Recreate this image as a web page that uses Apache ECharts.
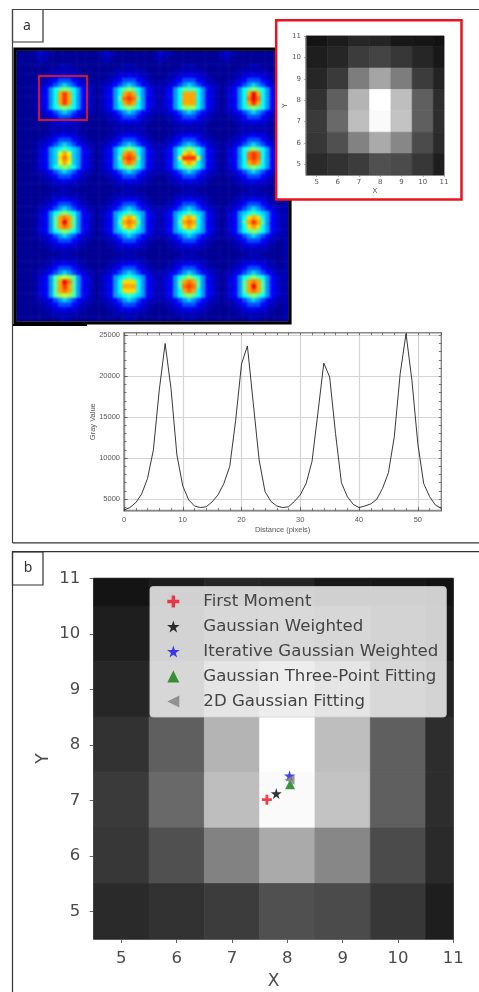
<!DOCTYPE html>
<html><head><meta charset="utf-8">
<style>html,body{margin:0;padding:0;background:#fff}#c{width:479px;height:992px}#c canvas{filter:blur(.6px)}
#soft{position:absolute;left:17px;top:51px;width:271px;height:270px;backdrop-filter:blur(.85px);-webkit-backdrop-filter:blur(.85px);clip-path:polygon(0 0,257px 0,257px 151px,271px 151px,271px 270px,0 270px)}
#box{position:absolute;left:38px;top:75px;width:46px;height:42px;border:2px solid #d01430;filter:blur(.4px)}</style>
<script src="https://cdn.jsdelivr.net/npm/echarts@6/dist/echarts.min.js"></script>
</head><body><div id="c"></div><div id="soft"></div><div id="box"></div>
<script>
// ---- data ----
const heatPalette=['#000096','#0000b4','#0000dc','#0000ff','#0048ff','#0096ff','#00d2ff','#00ffff','#50ffaa','#96ff5a','#d2ff28','#ffdc00','#ffa500','#ff6e00','#ff3200','#f00000'];
// outer rings of a spot (14 columns, peak at index 7) for |dy| = 3..7
const haloRows={3:'01123456543211',4:'00112344432110',5:'00011223221100',6:'00001111111000',7:'00000011100000'};
const spotRows=[
 [['01235789875321','012357cec75321','012357cec75321','012357cec75321','01235789875321'],
  ['01235789875321','012357cdc75321','012358ded85321','012357cdc75321','01235789875321'],
  ['01235788875321','012357ccc75321','012357ccc75321','012357ccc75321','01235799975321'],
  ['01235789875321','012357cfc75321','012357dfd75321','012357cec75321','01235789875321']],
 [['01235678765321','012356aca65321','012356bdb65321','012356aca65321','01235789875321'],
  ['01235789875321','012357cdc75321','012358ded85321','012357cdc75321','01235789875321'],
  ['01235789875321','012357bcb75321','01235aeeea5321','012357bcb75321','01235789875321'],
  ['01235789875321','012357ded75321','012357ded75321','012357cdc75321','01235789875321']],
 [['01235789875321','012358cdc85321','012358cfc85321','012358cdc85321','01235789875321'],
  ['01235678765321','012357bcb75321','012358cdc85321','012357bcb75321','01235678765321'],
  ['01235678765321','012357bcb75321','012358cdc75321','012357bcb75321','01235678765321'],
  ['01235678765321','012357bcb75321','012358cec85321','012357bcb75321','01235789875321']],
 [['0123589a985321','012358cfd85321','012358cec85321','012358cdc85321','0123589a985321'],
  ['01235678765321','012357bbb75321','012357ccc75321','012357bbb75321','01235678765321'],
  ['01235789875321','012358cdc85321','012358ded85321','012357cdc75321','01235789875321'],
  ['01235789875321','012358cdc85321','012358cfc85321','012358cdc85321','01235789875321']]
];
const edgeTopRows=['00001211000000000012110000000012110000000000121100000000000','00001110000000000011100000000011100000000000111000000000000','00000100000000000001000000000001000000000000010000000000000'];
const heatRowSpans=[[3,7,6],[0,6,6],[0,7,6],[0,7,7]]; // [blank rows, rows above the peak, rows below]
const heatColSpans=[[3,0,0],[0,0,0],[0,1,0],[0,0,1]]; // [blank cols, cols dropped, cols added]

const insetX=[5,6,7,8,9,10,11], insetY=[11,10,9,8,7,6,5];
const insetGray=[
 [20,28,38,36,24,22,18],
 [30,38,60,68,55,38,24],
 [38,58,125,165,125,60,35],
 [50,95,180,255,190,95,45],
 [58,105,190,250,195,95,45],
 [55,80,130,170,135,75,42],
 [42,50,60,80,75,55,30]];
const axisTicks=[5,6,7,8,9,10,11];

const profileValues=[3650,3950,4550,5600,7500,11000,18300,24000,18500,10400,6600,4900,4150,3950,4050,4650,5500,6900,9000,14600,21500,23700,16700,9750,5900,4700,4150,3950,4050,4700,5500,6900,9600,15500,21600,19900,13000,7000,5300,4350,3950,4150,4400,4950,6300,8200,12600,20300,25200,19500,11800,6900,5300,4250,3860];
const profileXTicks=[0,10,20,30,40,50];
const profileYTicks=[5000,10000,15000,20000,25000];
const profileXMinorTicks=[0,2,4,6,8,10,12,14,16,18,20,22,24,26,28,30,32,34,36,38,40,42,44,46,48,50,52,54];
const profileYMinorTicks=[4000,5000,6000,7000,8000,9000,10000,11000,12000,13000,14000,15000,16000,17000,18000,19000,20000,21000,22000,23000,24000,25000];

const firstMoment=[[7.63,7.01]], gaussWeighted=[[7.80,7.12]], iterGauss=[[8.04,7.44]], threePoint=[[8.05,7.29]], gauss2D=[[8.04,7.37]];

// ---- assemble heat cells ----
function cellRow(str,spec){let s=str.slice(spec[1]);return '0'.repeat(spec[0])+s+'1'.repeat(spec[2]);}
const heatRows=[...edgeTopRows];
heatRowSpans.forEach((span,ri)=>{
 for(let dy=-span[1];dy<=span[2];dy++){
  const a=Math.abs(dy);let r='';
  for(let ci=0;ci<4;ci++){
   const t=a>=3?haloRows[a]:spotRows[ri][ci][dy+2];
   r+=cellRow(t,heatColSpans[ci]);
  }
  heatRows.push(r);
 }
});
const heatCells=[];
heatRows.forEach((r,y)=>{[...r].forEach((c,x)=>heatCells.push([x,y,parseInt(c,16)]));});
const heatCats=heatRows[0].split('').map((_,i)=>i), heatCatsY=heatRows.map((_,i)=>i);
const grayCells=[];
insetGray.forEach((row,j)=>row.forEach((g,i)=>grayCells.push([insetX[i],insetY[j],g])));

function grayItem(params,api){
 const x=api.value(0),y=api.value(1),g=api.value(2);
 const a=api.coord([x-.5,y+.5]),b=api.coord([x+.5,y-.5]);
 const c=`rgb(${g},${g},${g})`;
 return {type:'rect',shape:echarts.graphic.clipRectByRect({x:a[0],y:a[1],width:b[0]-a[0],height:b[1]-a[1]},
   {x:params.coordSys.x,y:params.coordSys.y,width:params.coordSys.width,height:params.coordSys.height}),
   style:{fill:c,stroke:c,lineWidth:.7}};
}
const STAR='path://M50 0L61 35L98 35L68 57L79 91L50 70L21 91L32 57L2 35L39 35Z';
const PLUS='path://M36 0H64V36H100V64H64V100H36V64H0V36H36Z';
const LEFT='path://M0 50L100 0L100 100Z';
const TRI='path://M50 0L100 100L0 100Z';
const mpl='"DejaVu Sans"', ij='"Liberation Sans"';
function rect(x,y,w,h,stroke,lw,fill,z){return {type:'rect',z:z,shape:{x,y,width:w,height:h},style:{stroke,lineWidth:lw,fill:fill||'transparent'},silent:true};}
function ln(x1,y1,x2,y2,c,w,z){return {type:'line',z:z||30,shape:{x1,y1,x2,y2},style:{stroke:c,lineWidth:w},silent:true};}
function txt(x,y,t,z){return {type:'text',z:z||30,x,y,style:{text:t,font:'14px "Noto Sans"',fill:'#333',textAlign:'center',textVerticalAlign:'middle'},silent:true};}
const minorAxis=(grid,pos,type,ticks,lim)=>({type:'value',gridIndex:grid,position:pos,min:lim[0],max:lim[1],
  axisLine:{show:false,onZero:false},axisLabel:{show:false},splitLine:{show:false},
  axisTick:{show:true,inside:true,length:2.5,customValues:ticks,lineStyle:{color:'#555',width:.8}}});
const noComma=v=>String(v);

const chart=echarts.init(document.getElementById('c'),null,{renderer:'canvas',width:479,height:992});
chart.setOption({
 animation:false,backgroundColor:'#fff',
 graphic:{elements:[
  ln(12.5,9.5,479,9.5,'#444',1.2),ln(12.5,9,12.5,543,'#444',1.2),ln(12.5,542.8,479,542.8,'#333',1.2),
  rect(12.5,9.5,30.5,32.5,'#333',1.2),txt(27,26,'a'),
  ln(12.5,551.7,479,551.7,'#333',1.2),ln(12.5,551,12.5,992,'#333',1.2),
  rect(12.5,552,30.5,33,'#333',1.2),txt(28,568,'b'),
  rect(15,49.2,275,273.6,'#000',3.2,null,3),
  ln(13,325,87,325,'#000',2,3),
  rect(276.2,20.2,185.3,179.3,'#e8141e',2.5,'#fff',5)
 ]},
 grid:[
  {left:16.5,top:50.7,width:272,height:270.3},
  {left:306,top:36,width:138,height:139,show:true,borderColor:'#999',borderWidth:.6,z:6},
  {left:124,top:332.7,width:317.3,height:178,show:true,borderColor:'#888',borderWidth:1.4},
  {left:93.7,top:578.3,width:359.6,height:360.7,show:true,borderColor:'#777',borderWidth:1},
  {left:124,top:332.7,width:317.3,height:178}
 ],
 xAxis:[
  {type:'category',gridIndex:0,data:heatCats,show:false},
  {type:'value',gridIndex:1,min:4.5,max:11,z:11,axisLine:{onZero:false,lineStyle:{color:'#777',width:.6}},axisTick:{length:2,customValues:axisTicks,lineStyle:{color:'#777',width:.6}},axisLabel:{customValues:axisTicks,margin:4,fontSize:7,fontFamily:mpl,color:'#555'},splitLine:{show:false},name:'X',nameLocation:'middle',nameGap:13,nameMoveOverlap:false,nameTextStyle:{fontSize:7,fontFamily:mpl,color:'#555'}},
  {type:'value',gridIndex:2,min:0,max:54,axisLine:{onZero:false,lineStyle:{color:'#888',width:1.4}},axisTick:{inside:true,length:4,customValues:profileXTicks,lineStyle:{color:'#666',width:.8}},axisLabel:{customValues:profileXTicks,margin:5,fontSize:7.5,fontFamily:ij,color:'#555'},splitLine:{show:true,lineStyle:{color:'#d4d4d4',width:1.2}},name:'Distance (pixels)',nameLocation:'middle',nameGap:15,nameMoveOverlap:false,nameTextStyle:{fontSize:7.5,fontFamily:ij,color:'#555'}},
  {type:'value',gridIndex:3,min:4.5,max:11,axisLine:{onZero:false,lineStyle:{color:'#777',width:1}},axisTick:{length:4,customValues:axisTicks,lineStyle:{color:'#666',width:1}},axisLabel:{customValues:axisTicks,margin:11,fontSize:16.5,fontFamily:mpl,color:'#4a4a4a'},splitLine:{show:false},name:'X',nameLocation:'middle',nameGap:34,nameMoveOverlap:false,nameTextStyle:{fontSize:17,fontFamily:mpl,color:'#4a4a4a'}},
  minorAxis(4,'bottom','x',profileXMinorTicks,[0,54]),
  minorAxis(4,'top','x',profileXMinorTicks,[0,54])
 ],
 yAxis:[
  {type:'category',gridIndex:0,data:heatCatsY,inverse:true,show:false},
  {type:'value',gridIndex:1,min:4.5,max:11,z:11,axisLine:{onZero:false,lineStyle:{color:'#777',width:.6}},axisTick:{length:2,customValues:axisTicks,lineStyle:{color:'#777',width:.6}},axisLabel:{customValues:axisTicks,margin:5,fontSize:7,fontFamily:mpl,color:'#555'},splitLine:{show:false},name:'Y',nameLocation:'middle',nameGap:17,nameMoveOverlap:false,nameTextStyle:{fontSize:7,fontFamily:mpl,color:'#555'}},
  {type:'value',gridIndex:2,min:3570,max:25320,axisLine:{onZero:false,lineStyle:{color:'#888',width:1.4}},axisTick:{inside:true,length:4,customValues:profileYTicks,lineStyle:{color:'#666',width:.8}},axisLabel:{customValues:profileYTicks,formatter:noComma,margin:4,fontSize:7.5,fontFamily:ij,color:'#555'},splitLine:{show:true,lineStyle:{color:'#d4d4d4',width:1.2}},name:'Gray Value',nameLocation:'middle',nameGap:27,nameMoveOverlap:false,nameTextStyle:{fontSize:7.5,fontFamily:ij,color:'#555'}},
  {type:'value',gridIndex:3,min:4.5,max:11,axisLine:{onZero:false,lineStyle:{color:'#777',width:1}},axisTick:{length:4,customValues:axisTicks,lineStyle:{color:'#666',width:1}},axisLabel:{customValues:axisTicks,margin:13.5,fontSize:16.5,fontFamily:mpl,color:'#4a4a4a'},splitLine:{show:false},name:'Y',nameLocation:'middle',nameGap:42,nameMoveOverlap:false,nameTextStyle:{fontSize:17,fontFamily:mpl,color:'#4a4a4a'}},
  minorAxis(4,'left','y',profileYMinorTicks,[3570,25320]),
  minorAxis(4,'right','y',profileYMinorTicks,[3570,25320])
 ],
 visualMap:{show:false,type:'continuous',seriesIndex:0,dimension:2,min:0,max:15,inRange:{color:heatPalette}},
 legend:{left:150,top:586.5,padding:[2.5,8,3,17],orient:'vertical',backgroundColor:'rgba(255,255,255,.8)',borderRadius:3,borderColor:'rgba(204,204,204,.8)',borderWidth:1,z:20,
  itemWidth:30,itemHeight:12,itemGap:0,selectedMode:false,
  textStyle:{fontFamily:mpl,fontSize:16.6,color:'#444',lineHeight:25,padding:[0,0,0,10]},
  data:[{name:'First Moment',icon:PLUS},{name:'Gaussian Weighted',icon:STAR},{name:'Iterative Gaussian Weighted',icon:STAR},{name:'Gaussian Three-Point Fitting',icon:TRI},{name:'2D Gaussian Fitting',icon:LEFT}]},
 series:[
  {type:'heatmap',xAxisIndex:0,yAxisIndex:0,data:heatCells,z:1,progressive:0},
  {type:'custom',xAxisIndex:1,yAxisIndex:1,data:grayCells,renderItem:grayItem,z:10,silent:true},
  {type:'line',xAxisIndex:2,yAxisIndex:2,data:profileValues.map((v,i)=>[i,v]),symbol:'none',lineStyle:{color:'#222',width:.9},z:5},
  {type:'custom',xAxisIndex:3,yAxisIndex:3,data:grayCells,renderItem:grayItem,z:10,silent:true},
  {type:'scatter',name:'Iterative Gaussian Weighted',xAxisIndex:3,yAxisIndex:3,data:iterGauss,symbol:STAR,symbolSize:11,itemStyle:{color:'#1010ee'},z:12},
  {type:'scatter',name:'First Moment',xAxisIndex:3,yAxisIndex:3,data:firstMoment,symbol:PLUS,symbolSize:10,itemStyle:{color:'#f01020'},z:12},
  {type:'scatter',name:'Gaussian Weighted',xAxisIndex:3,yAxisIndex:3,data:gaussWeighted,symbol:STAR,symbolSize:11,itemStyle:{color:'#000'},z:12},
  {type:'scatter',name:'Gaussian Three-Point Fitting',xAxisIndex:3,yAxisIndex:3,data:threePoint,symbol:TRI,symbolSize:10,itemStyle:{color:'#0a7d0a'},z:13},
  {type:'scatter',name:'2D Gaussian Fitting',xAxisIndex:3,yAxisIndex:3,data:gauss2D,symbol:LEFT,symbolSize:10,itemStyle:{color:'#808080'},z:14}
 ]
});
</script></body></html>
